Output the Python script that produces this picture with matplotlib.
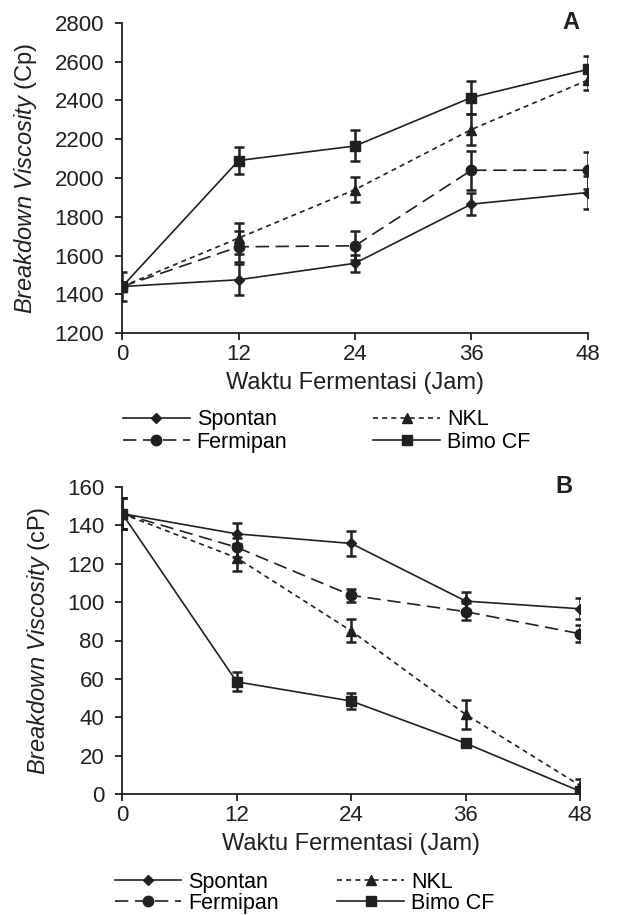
import matplotlib
matplotlib.use("Agg")
import matplotlib.pyplot as plt

plt.rcParams['font.family'] = ['Liberation Sans', 'DejaVu Sans']
plt.rcParams['mathtext.fontset'] = 'custom'
plt.rcParams['mathtext.rm'] = 'Liberation Sans'
plt.rcParams['mathtext.it'] = 'Liberation Sans:italic'

# data
hours = [0, 12, 24, 36, 48]
series = ["Spontan", "NKL", "Fermipan", "Bimo CF"]

spontan_a = [1440, 1475, 1560, 1865, 1925]
nkl_a = [1440, 1690, 1940, 2250, 2505]
fermipan_a = [1440, 1645, 1650, 2040, 2040]
bimo_a = [1440, 2090, 2165, 2415, 2560]
spontan_a_err = [25, 80, 45, 55, 85]
nkl_a_err = [25, 80, 65, 80, 50]
fermipan_a_err = [25, 80, 75, 100, 95]
bimo_a_err = [75, 70, 80, 85, 70]

spontan_b = [146, 135.5, 130.5, 100.5, 96.5]
nkl_b = [146, 123, 85, 41.5, 4.5]
fermipan_b = [146, 128.5, 103.5, 95, 83.5]
bimo_b = [146, 58.5, 48.5, 26.5, 1.5]
spontan_b_err = [8, 5.5, 6.5, 4.5, 5.5]
nkl_b_err = [8, 7, 6, 7.5, 3.5]
fermipan_b_err = [8, 5, 3.5, 4.5, 4.5]
bimo_b_err = [8, 5, 4, 1.5, 1.5]

C = '#231f20'
FS = 17
LFS = 15.5
styles = {
    "Spontan": dict(marker='D', ms=5.5, ls='-'),
    "NKL": dict(marker='^', ms=7, ls=(0, (3, 2.5))),
    "Fermipan": dict(marker='o', ms=7.5, ls=(0, (8, 4))),
    "Bimo CF": dict(marker='s', ms=7, ls='-'),
}

fig = plt.figure(figsize=(6.3, 9.15), dpi=100)
ax1 = fig.add_axes([0.194, 0.636, 0.739, 0.339])
ax2 = fig.add_axes([0.194, 0.132, 0.727, 0.336])


def draw(ax, vals, errs, ylim, yticks, ylabel, tag):
    handles = {}
    for name, v, e in zip(series, vals, errs):
        st = styles[name]
        ax.errorbar(hours, v, yerr=e, fmt='none', ecolor=C, elinewidth=1.8,
                    capsize=3.5, capthick=1.8, zorder=2)
        h, = ax.plot(hours, v, color=C, lw=1.2, ls=st['ls'], marker=st['marker'],
                     ms=st['ms'], mfc=C, mec=C, zorder=3, label=name)
        handles[name] = h
    ax.set_xlim(0, 48)
    ax.set_ylim(*ylim)
    ax.set_xticks(hours)
    ax.set_yticks(yticks)
    for s in ['top', 'right']:
        ax.spines[s].set_visible(False)
    for s in ['left', 'bottom']:
        ax.spines[s].set_color(C)
        ax.spines[s].set_linewidth(1.3)
        ax.spines[s].set_clip_on(False)
    ax.tick_params(direction='out', length=5, width=1.3, color=C,
                   labelsize=16, labelcolor=C)
    ax.tick_params(axis='x', pad=3)
    ax.tick_params(axis='y', pad=8)
    ax.set_xlabel("Waktu Fermentasi (Jam)", fontsize=FS, color=C, labelpad=5)
    ax.set_ylabel(r"$\it{Breakdown\ Viscosity}$ " + ylabel, fontsize=FS,
                  color=C, labelpad=11)
    ax.text(0.983, 1.0, tag, transform=ax.transAxes, ha='right', va='center',
            fontsize=17, fontweight='bold', color=C)
    return handles


h1 = draw(ax1, [spontan_a, nkl_a, fermipan_a, bimo_a],
          [spontan_a_err, nkl_a_err, fermipan_a_err, bimo_a_err],
          (1200, 2800), range(1200, 2801, 200), "(Cp)", "A")
h2 = draw(ax2, [spontan_b, nkl_b, fermipan_b, bimo_b],
          [spontan_b_err, nkl_b_err, fermipan_b_err, bimo_b_err],
          (0, 160), range(0, 161, 20), "(cP)", "B")

order = ["Spontan", "Fermipan", "NKL", "Bimo CF"]
fig.legend([h1[n] for n in order], order, ncol=2, frameon=False,
           loc='center left', bbox_to_anchor=(0.195, 1 - 431 / 915),
           fontsize=LFS, handlelength=3.1, handletextpad=0.33,
           columnspacing=4.0, labelspacing=0.05, borderpad=0, borderaxespad=0)
fig.legend([h2[n] for n in order], order, ncol=2, frameon=False,
           loc='center left', bbox_to_anchor=(0.182, 1 - 893 / 915),
           fontsize=LFS, handlelength=3.1, handletextpad=0.33,
           columnspacing=2.7, labelspacing=0.0, borderpad=0, borderaxespad=0)

fig.savefig("out.png", dpi=100)
